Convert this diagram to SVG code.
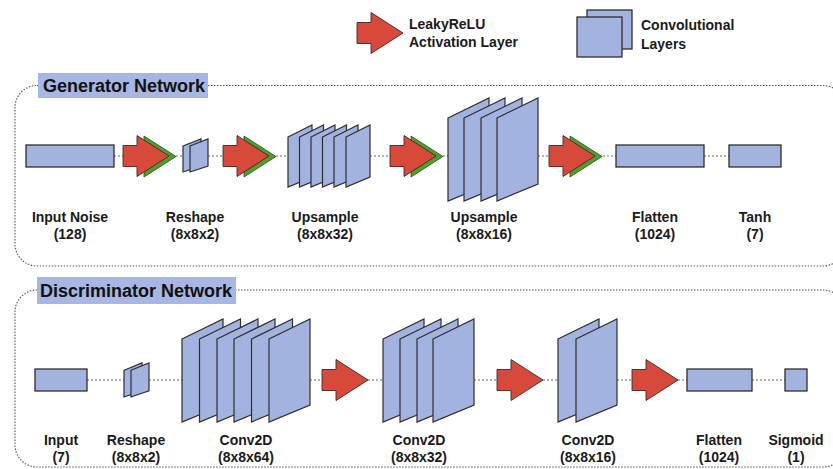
<svg xmlns="http://www.w3.org/2000/svg" width="833" height="469" viewBox="0 0 833 469">
<defs>
<style>
.bg{fill:#ffffff}
.box{fill:#a3b3df;stroke:#2e2e2e;stroke-width:1.3}
.pan{fill:#a3b3df;stroke:#2e2e2e;stroke-width:1.2;stroke-linejoin:miter}
.red{fill:#d6493b;stroke:#3a2a28;stroke-width:0.9}
.grn{fill:#4f9f2a;stroke:#2f4a20;stroke-width:0.8}
.con{stroke:#9a9a9a;stroke-width:1.5;stroke-dasharray:2 2;fill:none}
.frame{fill:none;stroke:#555;stroke-width:1.1;stroke-dasharray:1.5 1.5}
.hdr{fill:#a7b6e2}
.t{font-family:"Liberation Sans",Arial,sans-serif;font-weight:bold;font-size:14px;fill:#1a1a1a}
.tc{text-anchor:middle}
.h{font-family:"Liberation Sans",Arial,sans-serif;font-weight:bold;font-size:18px;fill:#111}
</style>
<path id="arrow" d="M0,-10.5 H14 V-20.5 L46,0 L14,20.5 V10.5 H0 Z"/>
<path id="garrow" d="M14,-20.5 L46,0 L14,20.5 Z"/>
<polygon id="pL" points="0,20 41,0 41,86 0,103"/>
<polygon id="pM" points="0,12 24,0 24,52 0,62"/>
<polygon id="pS" points="0,7 18,0 18,27 0,33"/>
</defs>
<rect class="bg" x="0" y="0" width="833" height="469"/>

<!-- Legend -->
<g id="legend-activation">
<use href="#arrow" class="red" transform="translate(357,33)"/>
<text class="t" x="409" y="29">LeakyReLU</text>
<text class="t" x="409" y="47">Activation Layer</text>
</g>
<g id="legend-conv">
<rect class="box" x="587" y="10" width="45" height="39"/>
<rect class="box" x="577" y="17" width="45" height="40"/>
<text class="t" x="641" y="30">Convolutional</text>
<text class="t" x="641" y="49">Layers</text>
</g>

<!-- Containers -->
<g id="generator-frame">
<rect class="frame" x="15" y="85.5" width="830" height="180.5" rx="22"/>
<rect class="hdr" x="38" y="73" width="170" height="25"/>
<text class="h" x="43" y="92">Generator Network</text>
</g>
<g id="discriminator-frame">
<rect class="frame" x="15" y="290" width="830" height="177" rx="22"/>
<rect class="hdr" x="37" y="277" width="199" height="27"/>
<text class="h" x="40" y="297">Discriminator Network</text>
</g>

<!-- Connectors -->
<g id="connectors">
<path class="con" d="M114,156H123 M176,156H183 M208,156H223 M276,156H288 M370,156H390 M443,156H448 M538,156H549 M603,156H616 M704,156H729"/>
<path class="con" d="M87,380H124 M149,380H182 M310,380H322 M368,380H383 M474,380H497 M543,380H558 M617,380H632 M678,380H687 M752,380H785"/>
</g>

<!-- Generator nodes -->
<g id="g-input">
<rect class="box" x="26" y="145" width="88" height="22"/>
<text class="t tc" x="70" y="222">Input Noise</text>
<text class="t tc" x="70" y="239">(128)</text>
</g>
<g id="g-act1">
<use href="#garrow" class="grn" transform="translate(130,156.5)"/>
<use href="#arrow" class="red" transform="translate(123,156)"/>
</g>
<g id="g-reshape">
<use href="#pS" class="pan" transform="translate(183,139)"/>
<use href="#pS" class="pan" transform="translate(190,139)"/>
<text class="t tc" x="195" y="222">Reshape</text>
<text class="t tc" x="195" y="239">(8x8x2)</text>
</g>
<g id="g-act2">
<use href="#garrow" class="grn" transform="translate(230,156.5)"/>
<use href="#arrow" class="red" transform="translate(223,156)"/>
</g>
<g id="g-upsample1">
<use href="#pM" class="pan" transform="translate(288,125)"/>
<use href="#pM" class="pan" transform="translate(299.5,125)"/>
<use href="#pM" class="pan" transform="translate(311,125)"/>
<use href="#pM" class="pan" transform="translate(322.5,125)"/>
<use href="#pM" class="pan" transform="translate(334,125)"/>
<use href="#pM" class="pan" transform="translate(346,125)"/>
<text class="t tc" x="325" y="222">Upsample</text>
<text class="t tc" x="325" y="239">(8x8x32)</text>
</g>
<g id="g-act3">
<use href="#garrow" class="grn" transform="translate(397,156.5)"/>
<use href="#arrow" class="red" transform="translate(390,156)"/>
</g>
<g id="g-upsample2">
<use href="#pL" class="pan" transform="translate(448,98)"/>
<use href="#pL" class="pan" transform="translate(464,98)"/>
<use href="#pL" class="pan" transform="translate(481,98)"/>
<use href="#pL" class="pan" transform="translate(497,98)"/>
<text class="t tc" x="484" y="222">Upsample</text>
<text class="t tc" x="484" y="239">(8x8x16)</text>
</g>
<g id="g-act4">
<use href="#garrow" class="grn" transform="translate(556,156.5)"/>
<use href="#arrow" class="red" transform="translate(549,156)"/>
</g>
<g id="g-flatten">
<rect class="box" x="616" y="145" width="88" height="22"/>
<text class="t tc" x="655" y="222">Flatten</text>
<text class="t tc" x="655" y="239">(1024)</text>
</g>
<g id="g-tanh">
<rect class="box" x="729" y="145" width="52" height="22"/>
<text class="t tc" x="755" y="222">Tanh</text>
<text class="t tc" x="755" y="239">(7)</text>
</g>

<!-- Discriminator nodes -->
<g id="d-input">
<rect class="box" x="35" y="369" width="52" height="22"/>
<text class="t tc" x="61" y="445">Input</text>
<text class="t tc" x="61" y="462">(7)</text>
</g>
<g id="d-reshape">
<use href="#pS" class="pan" transform="translate(124,363) scale(1,1.03)"/>
<use href="#pS" class="pan" transform="translate(131,363) scale(1,1.03)"/>
<text class="t tc" x="136" y="445">Reshape</text>
<text class="t tc" x="136" y="462">(8x8x2)</text>
</g>
<g id="d-conv1">
<use href="#pL" class="pan" transform="translate(182,319)"/>
<use href="#pL" class="pan" transform="translate(199.5,319)"/>
<use href="#pL" class="pan" transform="translate(217,319)"/>
<use href="#pL" class="pan" transform="translate(234,319)"/>
<use href="#pL" class="pan" transform="translate(251.5,319)"/>
<use href="#pL" class="pan" transform="translate(269,319)"/>
<text class="t tc" x="246" y="445">Conv2D</text>
<text class="t tc" x="246" y="462">(8x8x64)</text>
</g>
<g id="d-act1">
<use href="#arrow" class="red" transform="translate(322,380)"/>
</g>
<g id="d-conv2">
<use href="#pL" class="pan" transform="translate(383,319)"/>
<use href="#pL" class="pan" transform="translate(400,319)"/>
<use href="#pL" class="pan" transform="translate(417,319)"/>
<use href="#pL" class="pan" transform="translate(433,319)"/>
<text class="t tc" x="419" y="445">Conv2D</text>
<text class="t tc" x="419" y="462">(8x8x32)</text>
</g>
<g id="d-act2">
<use href="#arrow" class="red" transform="translate(497,380)"/>
</g>
<g id="d-conv3">
<use href="#pL" class="pan" transform="translate(558,319)"/>
<use href="#pL" class="pan" transform="translate(576,319)"/>
<text class="t tc" x="588" y="445">Conv2D</text>
<text class="t tc" x="588" y="462">(8x8x16)</text>
</g>
<g id="d-act3">
<use href="#arrow" class="red" transform="translate(632,380)"/>
</g>
<g id="d-flatten">
<rect class="box" x="687" y="369" width="65" height="22"/>
<text class="t tc" x="719" y="445">Flatten</text>
<text class="t tc" x="719" y="462">(1024)</text>
</g>
<g id="d-sigmoid">
<rect class="box" x="785" y="369" width="22" height="22"/>
<text class="t tc" x="796" y="445">Sigmoid</text>
<text class="t tc" x="796" y="462">(1)</text>
</g>
</svg>
